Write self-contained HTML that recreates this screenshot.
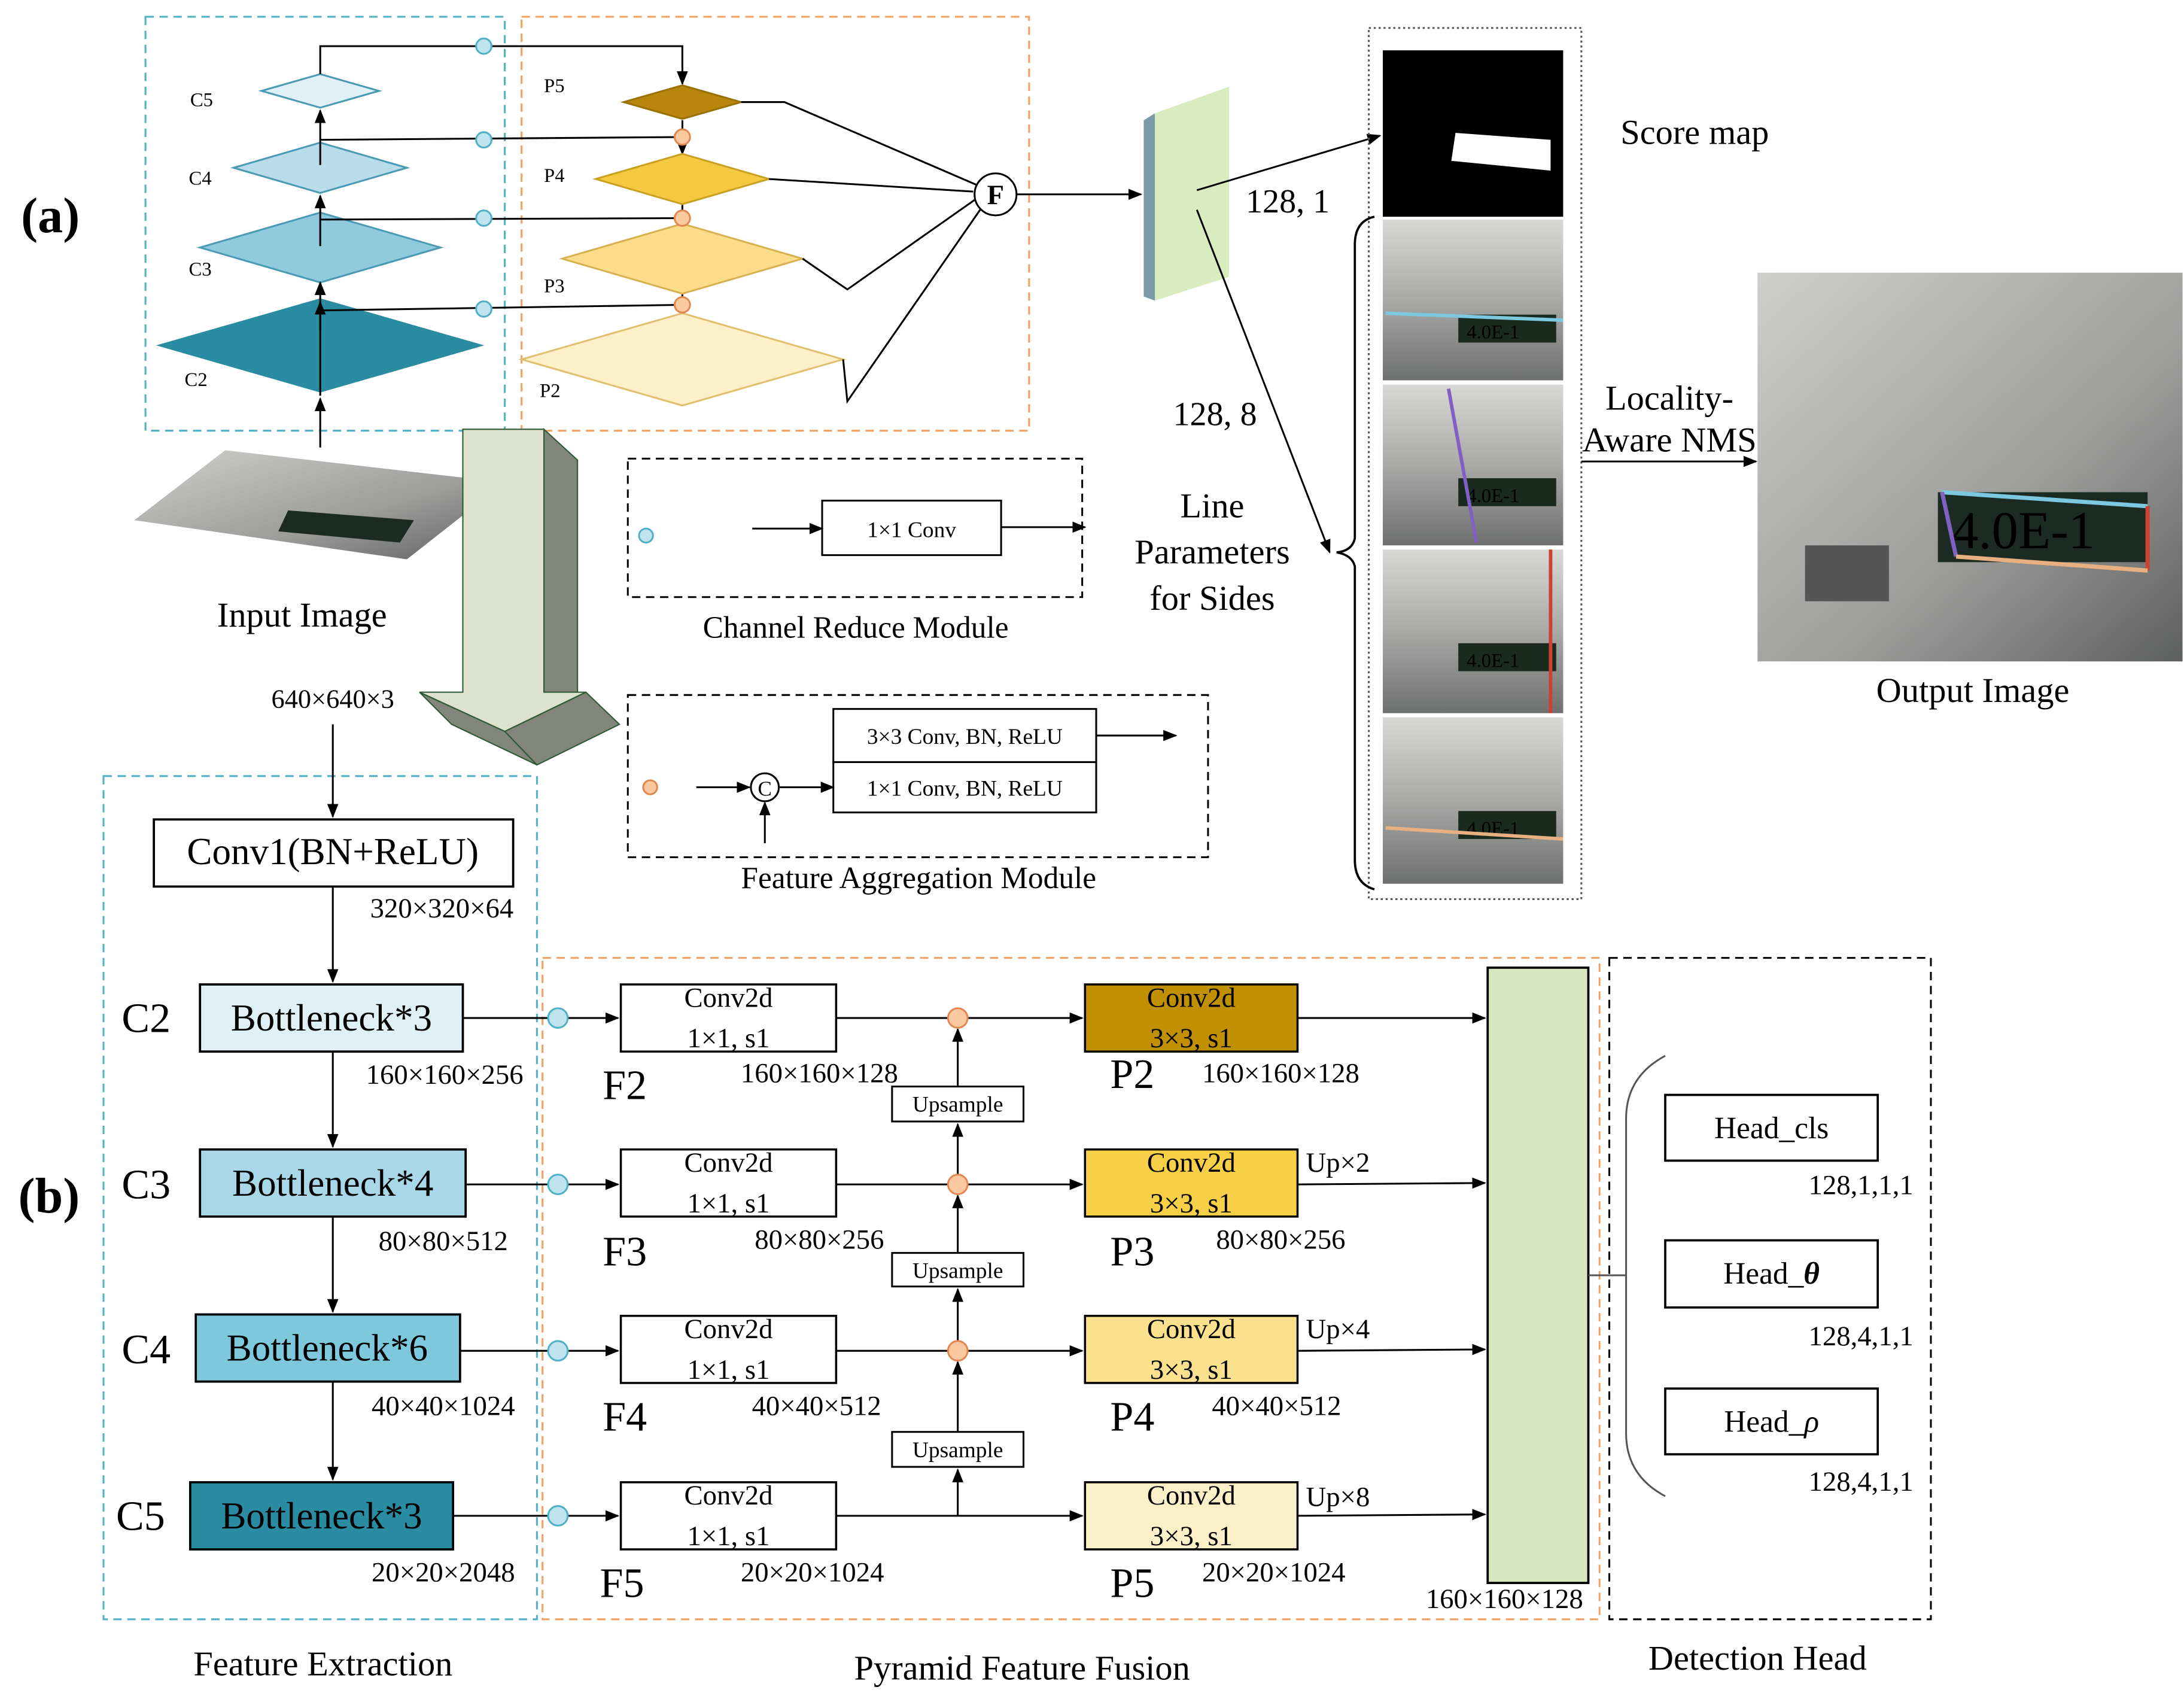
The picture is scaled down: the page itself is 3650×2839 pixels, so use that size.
<!DOCTYPE html>
<html><head><meta charset="utf-8"><style>
html,body{margin:0;padding:0;background:#fff;}
svg{display:block;}
text{font-family:"Liberation Serif",serif;fill:#000;}
</style></head><body>
<svg width="3650" height="2839" viewBox="0 0 1560 1215" xmlns="http://www.w3.org/2000/svg">
<defs>
<marker id="ar" markerWidth="10" markerHeight="10" refX="9" refY="5" orient="auto" markerUnits="userSpaceOnUse"><path d="M0,1 L10,5 L0,9 Z" fill="#000"/></marker>
<linearGradient id="ph" x1="0" y1="0" x2="0" y2="1"><stop offset="0" stop-color="#d8d8d6"/><stop offset="0.5" stop-color="#a9aaa8"/><stop offset="1" stop-color="#6e706f"/></linearGradient>
<linearGradient id="ph2" x1="0" y1="0" x2="1" y2="1"><stop offset="0" stop-color="#cfcfcc"/><stop offset="0.6" stop-color="#9c9d9b"/><stop offset="1" stop-color="#5e605f"/></linearGradient>
</defs>
<g stroke="#000" fill="none" stroke-width="1.3">
<text x="14" y="166" font-size="36" font-weight="bold" stroke="none">(a)</text>
<rect x="103" y="12" width="257" height="296" stroke="#4fb0c6" stroke-dasharray="6,4"/>
<rect x="372" y="12" width="363" height="296" stroke="#f0a060" stroke-dasharray="6,4"/>
<polygon points="186,65 228,53 270,65 228,77" fill="#dff0f7" stroke="#4a9ab5"/>
<polygon points="166,120 228,102 290,120 228,138" fill="#b8dcea" stroke="#4a9ab5"/>
<polygon points="142,177 228,152 314,177 228,202" fill="#8fcadd" stroke="#4a9ab5"/>
<polygon points="113,247 228,214 343,247 228,280" fill="#2a8ca3" stroke="#2a8ca3"/>
<g stroke="none" font-size="14"><text x="135" y="76">C5</text><text x="134" y="132">C4</text><text x="134" y="197">C3</text><text x="131" y="276">C2</text>
<text x="388" y="66">P5</text><text x="388" y="130">P4</text><text x="388" y="209">P3</text><text x="385" y="284">P2</text></g>
<line x1="228" y1="283" x2="228" y2="216" marker-end="url(#ar)"/>
<line x1="228" y1="236" x2="228" y2="202" marker-end="url(#ar)"/>
<line x1="228" y1="176" x2="228" y2="140" marker-end="url(#ar)"/>
<line x1="228" y1="118" x2="228" y2="79" marker-end="url(#ar)"/>
<polyline points="228,53 228,33 487,33 487,60" marker-end="url(#ar)"/>
<line x1="228" y1="100" x2="487" y2="98"/>
<line x1="228" y1="157" x2="487" y2="156"/>
<line x1="228" y1="222" x2="487" y2="218"/>
<line x1="487" y1="86" x2="487" y2="110" marker-end="url(#ar)"/>
<line x1="487" y1="146" x2="487" y2="178" marker-end="url(#ar)"/>
<line x1="487" y1="210" x2="487" y2="242" marker-end="url(#ar)"/>
<g fill="#bfe3ef" stroke="#4fb0c6"><circle cx="345" cy="33" r="5.5"/><circle cx="345" cy="100" r="5.5"/><circle cx="345" cy="156" r="5.5"/><circle cx="345" cy="221" r="5.5"/></g>
<polygon points="445,73 487,61 529,73 487,85" fill="#b8860b" stroke="#9a7000"/>
<polygon points="425,128 487,110 549,128 487,146" fill="#f5c842" stroke="#c9a020"/>
<polygon points="401,185 487,160 573,185 487,210" fill="#fadc8a" stroke="#d9b050"/>
<polygon points="372,257 487,224 602,257 487,290" fill="#fdf0c8" stroke="#e0c070"/>
<g fill="#fbc9a0" stroke="#e08850"><circle cx="487" cy="98" r="5.5"/><circle cx="487" cy="156" r="5.5"/><circle cx="487" cy="218" r="5.5"/></g>
<polyline points="529,73 560,73 697,132"/>
<polyline points="549,128 695,137"/>
<polyline points="573,185 605,207 696,143"/>
<polyline points="602,257 605,287 700,150"/>
<circle cx="711" cy="139" r="15" fill="#fff"/>
<text x="711" y="146" font-size="20" font-weight="bold" text-anchor="middle" stroke="none">F</text>
<line x1="726" y1="139" x2="815" y2="139" marker-end="url(#ar)"/>
<polygon points="817,86 825,81 825,215 817,212" fill="#7a9aa6" stroke="none"/>
<polygon points="825,81 878,62 878,198 825,215" fill="#d9ecc0" stroke="none"/>
<line x1="855" y1="136" x2="986" y2="97" marker-end="url(#ar)"/>
<polyline points="855,150 950,395" marker-end="url(#ar)"/>
<text x="890" y="152" font-size="24" stroke="none">128, 1</text>
<text x="838" y="304" font-size="24" stroke="none">128, 8</text>
<g font-size="25" text-anchor="middle" stroke="none"><text x="866" y="370">Line</text><text x="866" y="403">Parameters</text><text x="866" y="436">for Sides</text></g>
<rect x="978" y="20" width="152" height="623" stroke="#555" stroke-dasharray="1.5,2"/>
<rect x="988" y="36" width="129" height="119" fill="#000" stroke="none"/>
<polygon points="1040,95 1108,100 1108,122 1037,115" fill="#fff" stroke="none"/>
<text x="1158" y="103" font-size="25" stroke="none">Score map</text>
<g stroke="none">
<rect x="988" y="157" width="129" height="115" fill="url(#ph)"/>
<rect x="988" y="275" width="129" height="115" fill="url(#ph)"/>
<rect x="988" y="393" width="129" height="117" fill="url(#ph)"/>
<rect x="988" y="513" width="129" height="119" fill="url(#ph)"/>
<rect x="1042" y="225" width="70" height="20" fill="#1a2a1e"/><text x="1048" y="242" font-size="14" fill="#5f5" font-family="Liberation Mono">4.0E-1</text>
<rect x="1042" y="342" width="70" height="20" fill="#1a2a1e"/><text x="1048" y="359" font-size="14" fill="#5f5" font-family="Liberation Mono">4.0E-1</text>
<rect x="1042" y="460" width="70" height="20" fill="#1a2a1e"/><text x="1048" y="477" font-size="14" fill="#5f5" font-family="Liberation Mono">4.0E-1</text>
<rect x="1042" y="580" width="70" height="20" fill="#1a2a1e"/><text x="1048" y="597" font-size="14" fill="#5f5" font-family="Liberation Mono">4.0E-1</text>
</g>
<line x1="990" y1="224" x2="1117" y2="229" stroke="#7cc8e0" stroke-width="2.5"/>
<line x1="1035" y1="278" x2="1055" y2="388" stroke="#8060c0" stroke-width="2.5"/>
<line x1="1108" y1="393" x2="1108" y2="510" stroke="#d04030" stroke-width="2.5"/>
<line x1="990" y1="592" x2="1117" y2="600" stroke="#e8b080" stroke-width="2.5"/>
<path d="M982,155 Q968,158 968,175 L968,385 Q966,394 955,395 Q966,397 968,405 L968,615 Q968,632 982,636" stroke-width="1.6"/>
<g font-size="25" text-anchor="middle" stroke="none"><text x="1193" y="293">Locality-</text><text x="1193" y="323">Aware NMS</text></g>
<line x1="1130" y1="330" x2="1255" y2="330" marker-end="url(#ar)"/>
<rect x="1256" y="195" width="304" height="278" fill="url(#ph2)" stroke="none"/>
<rect x="1385" y="352" width="150" height="50" fill="#1b2a22" stroke="none"/>
<text x="1395" y="392" font-size="38" fill="#4f4" stroke="none" font-family="Liberation Mono">4.0E-1</text>
<line x1="1388" y1="352" x2="1535" y2="362" stroke="#7cc8e0" stroke-width="3"/>
<line x1="1388" y1="352" x2="1398" y2="398" stroke="#8060c0" stroke-width="3"/>
<line x1="1535" y1="362" x2="1535" y2="408" stroke="#d04030" stroke-width="3"/>
<line x1="1398" y1="398" x2="1535" y2="408" stroke="#e8b080" stroke-width="3"/>
<rect x="1290" y="390" width="60" height="40" fill="#555" stroke="none"/>
<text x="1410" y="502" font-size="25" text-anchor="middle" stroke="none">Output Image</text>
<polygon points="95,372 160,322 360,345 290,400" fill="url(#ph2)" stroke="none"/>
<polygon points="205,365 295,372 285,388 198,380" fill="#1b2a22" stroke="none"/>
<text x="215" y="448" font-size="25" text-anchor="middle" stroke="none">Input Image</text>
<line x1="228" y1="320" x2="228" y2="285" marker-end="url(#ar)"/>
<g stroke="#2f5a35" stroke-width="0.9">
<polygon points="388,307 412,329 412,495 388,495" fill="#82867a"/>
<polygon points="299,495 322,518 383,547 360,523" fill="#82867a"/>
<polygon points="360,523 418,495 442,518 383,547" fill="#82867a"/>
<polygon points="330,307 388,307 388,495 418,495 360,523 299,495 330,495" fill="#dce2cb"/>
</g>
<text x="237" y="506" font-size="19" text-anchor="middle" stroke="none">640×640×3</text>
<rect x="448" y="328" width="325" height="99" stroke-dasharray="6,4"/>
<circle cx="461" cy="383" r="5" fill="#bfe3ef" stroke="#4fb0c6"/>
<line x1="537" y1="378" x2="587" y2="378" marker-end="url(#ar)"/>
<rect x="587" y="358" width="128" height="39"/>
<text x="651" y="384" font-size="16" text-anchor="middle" stroke="none">1×1 Conv</text>
<line x1="715" y1="377" x2="775" y2="377" marker-end="url(#ar)"/>
<text x="611" y="456" font-size="22" text-anchor="middle" stroke="none">Channel Reduce Module</text>
<rect x="448" y="497" width="415" height="116" stroke-dasharray="6,4"/>
<circle cx="464" cy="563" r="5" fill="#fbc9a0" stroke="#e08850"/>
<line x1="497" y1="563" x2="535" y2="563" marker-end="url(#ar)"/>
<circle cx="546" cy="563" r="10"/>
<text x="546" y="569" font-size="15" text-anchor="middle" stroke="none">C</text>
<line x1="556" y1="563" x2="595" y2="563" marker-end="url(#ar)"/>
<line x1="546" y1="603" x2="546" y2="574" marker-end="url(#ar)"/>
<rect x="595" y="507" width="188" height="38"/><rect x="595" y="545" width="188" height="36"/>
<text x="689" y="532" font-size="16" text-anchor="middle" stroke="none">3×3 Conv, BN, ReLU</text>
<text x="689" y="569" font-size="16" text-anchor="middle" stroke="none">1×1 Conv, BN, ReLU</text>
<line x1="783" y1="526" x2="840" y2="526" marker-end="url(#ar)"/>
<text x="656" y="635" font-size="22" text-anchor="middle" stroke="none">Feature Aggregation Module</text>
<text x="12" y="867" font-size="36" font-weight="bold" stroke="none">(b)</text>
<rect x="73" y="555" width="310" height="603" stroke="#4fb0c6" stroke-dasharray="6,4"/>
<rect x="387" y="685" width="756" height="473" stroke="#f0a060" stroke-dasharray="6,4"/>
<rect x="1150" y="685" width="230" height="473" stroke-dasharray="6,4"/>
<line x1="237" y1="518" x2="237" y2="584" marker-end="url(#ar)"/>
<rect x="109" y="586" width="257" height="48" stroke-width="1.6"/>
<text x="237" y="618" font-size="27" text-anchor="middle" stroke="none">Conv1(BN+ReLU)</text>
<g font-size="20" stroke="none" text-anchor="middle">
<text x="315" y="656">320×320×64</text><text x="317" y="775">160×160×256</text><text x="316" y="894">80×80×512</text><text x="316" y="1012">40×40×1024</text><text x="316" y="1131">20×20×2048</text>
<text x="585" y="774">160×160×128</text><text x="585" y="893">80×80×256</text><text x="583" y="1012">40×40×512</text><text x="580" y="1131">20×20×1024</text>
<text x="915" y="774">160×160×128</text><text x="915" y="893">80×80×256</text><text x="912" y="1012">40×40×512</text><text x="910" y="1131">20×20×1024</text>
<text x="1075" y="1150">160×160×128</text>
<text x="1330" y="854">128,1,1,1</text><text x="1330" y="962">128,4,1,1</text><text x="1330" y="1066">128,4,1,1</text>
</g>
<g font-size="20" stroke="none"><text x="933" y="838">Up×2</text><text x="933" y="957">Up×4</text><text x="933" y="1077">Up×8</text></g>
<line x1="237" y1="634" x2="237" y2="702" marker-end="url(#ar)"/>
<line x1="237" y1="752" x2="237" y2="820" marker-end="url(#ar)"/>
<line x1="237" y1="870" x2="237" y2="938" marker-end="url(#ar)"/>
<line x1="237" y1="988" x2="237" y2="1058" marker-end="url(#ar)"/>
<rect x="142" y="704" width="188" height="48" fill="#dff0f7" stroke-width="1.6"/>
<rect x="142" y="822" width="190" height="48" fill="#a8d8e8" stroke-width="1.6"/>
<rect x="139" y="940" width="189" height="48" fill="#7ec8dc" stroke-width="1.6"/>
<rect x="135" y="1060" width="188" height="48" fill="#2a8ca3" stroke-width="1.6"/>
<g font-size="27" stroke="none" text-anchor="middle">
<text x="236" y="737">Bottleneck*3</text><text x="237" y="855">Bottleneck*4</text><text x="233" y="973">Bottleneck*6</text><text x="229" y="1093">Bottleneck*3</text></g>
<g font-size="30" stroke="none">
<text x="86" y="738">C2</text><text x="86" y="857">C3</text><text x="86" y="975">C4</text><text x="82" y="1094">C5</text>
<text x="430" y="786">F2</text><text x="430" y="905">F3</text><text x="430" y="1023">F4</text><text x="428" y="1142">F5</text>
<text x="793" y="778">P2</text><text x="793" y="905">P3</text><text x="793" y="1023">P4</text><text x="793" y="1142">P5</text></g>
<line x1="330" y1="728" x2="392" y2="728"/><line x1="404" y1="728" x2="441" y2="728" marker-end="url(#ar)"/>
<line x1="332" y1="847" x2="392" y2="847"/><line x1="404" y1="847" x2="441" y2="847" marker-end="url(#ar)"/>
<line x1="328" y1="966" x2="392" y2="966"/><line x1="404" y1="966" x2="441" y2="966" marker-end="url(#ar)"/>
<line x1="323" y1="1084" x2="392" y2="1084"/><line x1="404" y1="1084" x2="441" y2="1084" marker-end="url(#ar)"/>
<g fill="#bfe3ef" stroke="#4fb0c6"><circle cx="398" cy="728" r="7"/><circle cx="398" cy="847" r="7"/><circle cx="398" cy="966" r="7"/><circle cx="398" cy="1084" r="7"/></g>
<g fill="#fff" stroke-width="1.5"><rect x="443" y="704" width="154" height="48"/><rect x="443" y="822" width="154" height="48"/><rect x="443" y="941" width="154" height="48"/><rect x="443" y="1060" width="154" height="48"/></g>
<g font-size="20" stroke="none" text-anchor="middle">
<text x="520" y="720">Conv2d</text><text x="520" y="749">1×1, s1</text>
<text x="520" y="838">Conv2d</text><text x="520" y="867">1×1, s1</text>
<text x="520" y="957">Conv2d</text><text x="520" y="986">1×1, s1</text>
<text x="520" y="1076">Conv2d</text><text x="520" y="1105">1×1, s1</text></g>
<line x1="597" y1="728" x2="773" y2="728" marker-end="url(#ar)"/>
<line x1="597" y1="847" x2="773" y2="847" marker-end="url(#ar)"/>
<line x1="597" y1="966" x2="773" y2="966" marker-end="url(#ar)"/>
<line x1="597" y1="1084" x2="773" y2="1084" marker-end="url(#ar)"/>
<line x1="684" y1="1084" x2="684" y2="1051" marker-end="url(#ar)"/>
<line x1="684" y1="1024" x2="684" y2="974" marker-end="url(#ar)"/>
<line x1="684" y1="959" x2="684" y2="922" marker-end="url(#ar)"/>
<line x1="684" y1="896" x2="684" y2="855" marker-end="url(#ar)"/>
<line x1="684" y1="840" x2="684" y2="804" marker-end="url(#ar)"/>
<line x1="684" y1="777" x2="684" y2="736" marker-end="url(#ar)"/>
<g fill="#fbc9a0" stroke="#e08850"><circle cx="684" cy="728" r="7"/><circle cx="684" cy="847" r="7"/><circle cx="684" cy="966" r="7"/></g>
<g fill="#fff"><rect x="637" y="777" width="94" height="25"/><rect x="637" y="896" width="94" height="24"/><rect x="637" y="1024" width="94" height="25"/></g>
<g font-size="16" stroke="none" text-anchor="middle"><text x="684" y="795">Upsample</text><text x="684" y="914">Upsample</text><text x="684" y="1042">Upsample</text></g>
<rect x="775" y="704" width="152" height="48" fill="#c09000" stroke-width="1.5"/>
<rect x="775" y="822" width="152" height="48" fill="#f8d048" stroke-width="1.5"/>
<rect x="775" y="941" width="152" height="48" fill="#fbe08e" stroke-width="1.5"/>
<rect x="775" y="1060" width="152" height="48" fill="#fdf0c8" stroke-width="1.5"/>
<g font-size="20" stroke="none" text-anchor="middle">
<text x="851" y="720">Conv2d</text><text x="851" y="749">3×3, s1</text>
<text x="851" y="838">Conv2d</text><text x="851" y="867">3×3, s1</text>
<text x="851" y="957">Conv2d</text><text x="851" y="986">3×3, s1</text>
<text x="851" y="1076">Conv2d</text><text x="851" y="1105">3×3, s1</text></g>
<line x1="927" y1="728" x2="1061" y2="728" marker-end="url(#ar)"/>
<line x1="927" y1="847" x2="1061" y2="846" marker-end="url(#ar)"/>
<line x1="927" y1="966" x2="1061" y2="965" marker-end="url(#ar)"/>
<line x1="927" y1="1084" x2="1061" y2="1083" marker-end="url(#ar)"/>
<rect x="1063" y="692" width="72" height="440" fill="#d8e6c0" stroke-width="1.6"/>
<line x1="1135" y1="912" x2="1162" y2="912" stroke="#555"/>
<path d="M1190,755 Q1162,770 1162,800 L1162,1025 Q1162,1055 1190,1070" stroke="#555"/>
<g fill="#fff" stroke-width="1.6"><rect x="1190" y="783" width="152" height="47"/><rect x="1190" y="887" width="152" height="48"/><rect x="1190" y="993" width="152" height="47"/></g>
<g font-size="22" stroke="none" text-anchor="middle"><text x="1266" y="814">Head_cls</text><text x="1266" y="918">Head_<tspan font-style="italic" font-weight="bold">θ</tspan></text><text x="1266" y="1024">Head_<tspan font-style="italic">ρ</tspan></text></g>
<g font-size="25" stroke="none" text-anchor="middle"><text x="230" y="1198">Feature Extraction</text><text x="730" y="1201">Pyramid Feature Fusion</text><text x="1256" y="1194">Detection Head</text></g>
</g>
</svg>
</body></html>
